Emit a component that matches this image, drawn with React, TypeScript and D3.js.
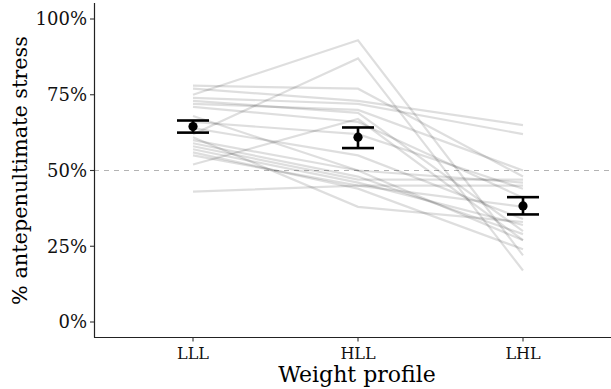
import React from 'react';
import * as d3 from 'd3';

const profiles = ['LLL', 'HLL', 'LHL'];

// one row per participant: % antepenultimate stress for LLL, HLL, LHL
const participantLLL = [75, 62, 78, 77, 74, 72, 73, 71, 52, 66, 64, 60, 58, 57, 55, 43, 59, 61, 56, 68];
const participantHLL = [93, 87, 77, 73, 72, 70, 69, 66, 67, 62, 55, 50, 47, 46, 45, 45, 48, 38, 44, 50];
const participantLHL = [22, 17, 48, 65, 62, 50, 30, 41, 27, 44, 34, 46, 47, 32, 38, 45, 29, 33, 24, 27];

const meanValues = [64.5, 61, 38.3];
const errLow = [62.5, 57.4, 35.5];
const errHigh = [66.5, 64.2, 41.2];

const yTicks = [0, 25, 50, 75, 100];

const width = 611;
const height = 389;
const marginLeft = 94;
const marginTop = 3;
const marginBottom = 52;
const font = 'DejaVu Serif';

export default function App() {
  // panel runs past the right edge of the picture
  const x = d3
    .scalePoint<string>()
    .domain(profiles)
    .range([marginLeft, 622])
    .padding(0.6);

  const y = d3.scaleLinear().domain([0, 100]).range([322, 19]);

  const line = d3
    .line<[string, number]>()
    .x((d) => x(d[0]) as number)
    .y((d) => y(d[1]));

  const rows = participantLLL.map((v, i) => [
    ['LLL', v],
    ['HLL', participantHLL[i]],
    ['LHL', participantLHL[i]],
  ]) as [string, number][][];

  const axisBottomY = height - marginBottom + 0.5;

  return (
    <svg
      width={width}
      height={height}
      style={{ position: 'absolute', left: 0, top: 0, background: '#fff' }}
      fontFamily={font}
    >
      {/* reference line */}
      <line
        x1={marginLeft}
        x2={width}
        y1={y(50)}
        y2={y(50)}
        stroke="#b3b3b3"
        strokeWidth={1.1}
        strokeDasharray="5,5"
      />

      {/* individual participants */}
      {rows.map((r, i) => (
        <path
          key={i}
          d={line(r) as string}
          fill="none"
          stroke="#000"
          strokeOpacity={0.13}
          strokeWidth={2.2}
        />
      ))}

      {/* means with error bars */}
      {profiles.map((p, i) => {
        const cx = x(p) as number;
        return (
          <g key={p} stroke="#000" strokeWidth={2.6}>
            <line x1={cx} x2={cx} y1={y(errLow[i])} y2={y(errHigh[i])} />
            <line x1={cx - 16} x2={cx + 16} y1={y(errLow[i])} y2={y(errLow[i])} />
            <line x1={cx - 16} x2={cx + 16} y1={y(errHigh[i])} y2={y(errHigh[i])} />
            <circle cx={cx} cy={y(meanValues[i])} r={4.6} fill="#000" stroke="none" />
          </g>
        );
      })}

      {/* y axis */}
      <line x1={marginLeft + 0.5} x2={marginLeft + 0.5} y1={marginTop} y2={axisBottomY} stroke="#222" strokeWidth={1.2} />
      {yTicks.map((t) => (
        <g key={t}>
          <line x1={marginLeft - 4} x2={marginLeft} y1={y(t)} y2={y(t)} stroke="#333" strokeWidth={1.1} />
          <text x={marginLeft - 7} y={y(t)} dy="0.36em" textAnchor="end" fontSize={18} fill="#111">
            {t}%
          </text>
        </g>
      ))}
      <text
        transform={`translate(27,${(19 + 322) / 2}) rotate(-90)`}
        textAnchor="middle"
        fontSize={20.8}
        fill="#000"
      >
        % antepenultimate stress
      </text>

      {/* x axis */}
      <line x1={marginLeft} x2={width} y1={axisBottomY} y2={axisBottomY} stroke="#222" strokeWidth={1.2} />
      {profiles.map((p) => (
        <g key={p}>
          <line x1={x(p)} x2={x(p)} y1={axisBottomY} y2={axisBottomY + 4} stroke="#333" strokeWidth={1.1} />
          <text x={x(p)} y={359} textAnchor="middle" fontSize={16} fill="#111">
            {p}
          </text>
        </g>
      ))}
      <text x={357} y={382} textAnchor="middle" fontSize={22} fill="#000">
        Weight profile
      </text>
    </svg>
  );
}
